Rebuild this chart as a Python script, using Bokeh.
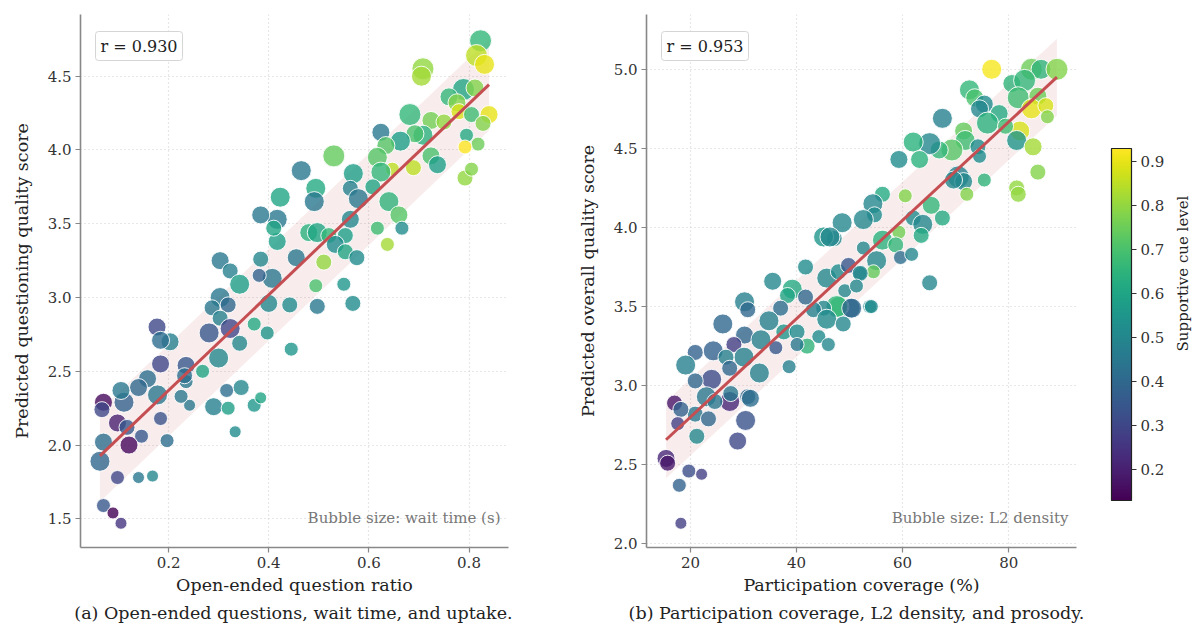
import numpy as np
from bokeh.plotting import figure
from bokeh.models import (ColumnDataSource, Range1d, LinearColorMapper, ColorBar,
                          FixedTicker, Label, NumeralTickFormatter)
from bokeh.transform import transform
from bokeh.palettes import Viridis256
from bokeh.layouts import row, column
from bokeh.embed import file_html
from bokeh.resources import INLINE

FONT = "DejaVu Serif"

# ---------------- Panel (a) data ----------------
open_ratio = [0.823, 0.815, 0.831, 0.708, 0.705, 0.789, 0.812, 0.760, 0.776, 0.840, 0.780, 0.805, 0.828, 0.795, 0.818, 0.792,
              0.682, 0.724, 0.750, 0.708, 0.692, 0.663, 0.624, 0.634, 0.724, 0.737, 0.689, 0.647, 0.617, 0.624, 0.792, 0.805,
              0.530, 0.465, 0.569, 0.563, 0.579, 0.494, 0.491, 0.608, 0.640, 0.660, 0.666, 0.617, 0.637, 0.423, 0.417, 0.563,
              0.480, 0.497, 0.520, 0.553, 0.455, 0.417, 0.533, 0.553, 0.576, 0.510, 0.494, 0.550, 0.407, 0.384, 0.410, 0.384,
              0.381, 0.303, 0.323, 0.342, 0.303, 0.319, 0.287, 0.303, 0.281, 0.323, 0.342, 0.300, 0.371, 0.397, 0.400, 0.442,
              0.497, 0.568, 0.445, 0.235, 0.177, 0.203, 0.184, 0.268, 0.235, 0.316, 0.345, 0.290, 0.319, 0.371, 0.384, 0.242,
              0.158, 0.184, 0.184, 0.232, 0.225, 0.140, 0.178, 0.111, 0.105, 0.070, 0.067, 0.098, 0.117, 0.146, 0.197, 0.121,
              0.070, 0.063, 0.098, 0.140, 0.168, 0.070, 0.089, 0.105, 0.333]
quality_a = [4.74, 4.64, 4.58, 4.55, 4.50, 4.41, 4.42, 4.36, 4.32, 4.24, 4.26, 4.24, 4.18, 4.10, 4.04, 4.02,
             4.24, 4.20, 4.19, 4.10, 4.11, 4.06, 4.12, 4.03, 3.96, 3.90, 3.88, 3.87, 3.95, 3.85, 3.81, 3.87,
             3.96, 3.86, 3.84, 3.74, 3.67, 3.74, 3.65, 3.75, 3.65, 3.56, 3.47, 3.47, 3.36, 3.68, 3.53, 3.53,
             3.44, 3.44, 3.42, 3.42, 3.27, 3.38, 3.36, 3.31, 3.27, 3.24, 3.08, 3.09, 3.13, 3.56, 3.47, 3.26,
             3.15, 3.25, 3.18, 3.09, 3.00, 2.95, 2.93, 2.86, 2.76, 2.79, 2.69, 2.59, 2.82, 2.76, 2.96, 2.95,
             2.94, 2.96, 2.65, 2.54, 2.80, 2.70, 2.55, 2.50, 2.43, 2.37, 2.39, 2.26, 2.25, 2.27, 2.32, 2.27,
             2.45, 2.18, 2.71, 2.47, 2.33, 2.39, 2.34, 2.29, 2.37, 2.29, 2.24, 2.15, 2.12, 2.06, 2.03, 2.00,
             2.02, 1.89, 1.78, 1.78, 1.79, 1.59, 1.54, 1.47, 2.09]
wait_time = [4.5, 4.5, 4.0, 4.5, 4.0, 4.5, 3.5, 3.5, 3.5, 3.5, 3.0, 3.0, 3.0, 2.5, 2.5, 2.5,
             4.5, 3.5, 3.0, 4.0, 3.5, 4.0, 3.5, 3.5, 3.5, 3.5, 3.0, 2.5, 4.0, 4.0, 3.0, 2.5,
             4.5, 4.0, 4.0, 3.0, 4.0, 4.0, 4.0, 3.0, 4.0, 3.5, 2.5, 2.5, 2.5, 4.0, 4.0, 3.5,
             3.5, 4.0, 3.0, 3.0, 3.5, 3.5, 3.5, 3.0, 3.0, 3.0, 2.5, 2.5, 4.0, 3.5, 3.0, 3.0,
             2.5, 3.5, 3.0, 4.0, 4.0, 3.0, 3.0, 3.0, 4.0, 4.0, 3.0, 4.0, 2.5, 2.5, 3.5, 3.0,
             3.0, 3.0, 2.5, 3.5, 3.5, 3.5, 3.5, 2.5, 2.5, 2.5, 3.0, 3.5, 2.5, 2.5, 2.0, 2.0,
             3.5, 2.5, 3.5, 3.0, 2.5, 3.5, 4.0, 4.0, 3.5, 3.5, 3.0, 3.5, 3.0, 2.5, 2.5, 3.5,
             3.5, 4.0, 2.5, 2.0, 2.0, 2.5, 2.0, 2.0, 2.0]
cue_a = [0.66, 0.85, 0.90, 0.80, 0.82, 0.60, 0.78, 0.66, 0.78, 0.90, 0.88, 0.68, 0.78, 0.62, 0.75, 0.93,
         0.66, 0.76, 0.80, 0.64, 0.70, 0.58, 0.45, 0.72, 0.70, 0.58, 0.85, 0.85, 0.72, 0.66, 0.80, 0.78,
         0.74, 0.45, 0.58, 0.48, 0.45, 0.62, 0.45, 0.60, 0.65, 0.72, 0.52, 0.68, 0.82, 0.60, 0.45, 0.50,
         0.64, 0.60, 0.66, 0.58, 0.45, 0.58, 0.52, 0.60, 0.52, 0.80, 0.70, 0.55, 0.45, 0.45, 0.60, 0.50,
         0.38, 0.45, 0.48, 0.58, 0.45, 0.40, 0.45, 0.48, 0.35, 0.30, 0.50, 0.50, 0.62, 0.55, 0.50, 0.52,
         0.45, 0.52, 0.55, 0.35, 0.30, 0.48, 0.30, 0.60, 0.45, 0.42, 0.50, 0.48, 0.58, 0.55, 0.60, 0.45,
         0.42, 0.33, 0.42, 0.42, 0.45, 0.40, 0.45, 0.38, 0.45, 0.15, 0.30, 0.20, 0.35, 0.35, 0.42, 0.15,
         0.42, 0.40, 0.30, 0.45, 0.50, 0.35, 0.13, 0.25, 0.52]
r_a_text = "r = 0.930"

# ---------------- Panel (b) data ----------------
coverage = [76.8, 84.3, 86.1, 89.1, 80.6, 83.0, 81.8, 85.5, 84.3, 87.0, 87.3, 82.1, 81.5, 84.6, 85.5, 81.5, 81.8,
            72.6, 73.6, 75.4, 74.5, 78.2, 76.0, 79.4, 67.5, 71.5, 71.8, 74.2, 74.5, 75.4, 69.3, 66.9, 65.1, 62.0,
            63.2, 59.3, 70.5, 71.5, 72.1, 69.6, 60.5, 65.4, 67.5, 56.2, 54.4, 54.7, 52.6, 48.6, 47.1, 62.0, 63.8,
            63.5, 59.3, 56.2, 58.7, 52.6, 59.6, 61.7, 55.1, 54.5, 51.95, 65.1, 53.8, 50.1, 48.0, 45.1, 46.3, 41.7,
            35.5, 39.2, 38.3, 45.7, 47.9, 49.8, 52.0, 49.1, 51.3, 47.6, 50.4, 54.1, 45.1, 43.2, 45.7, 48.8, 41.7,
            37.0, 30.2, 30.8, 34.8, 37.6, 40.1, 44.2, 42.0, 46.0, 40.1, 26.1, 30.2, 33.3, 28.2, 30.1, 36.1, 38.6,
            33.0, 24.3, 26.7, 27.4, 20.9, 19.1, 24.0, 20.9, 30.8, 27.4, 23.0, 24.6, 27.6, 31.3, 20.9, 23.4, 30.4,
            28.9, 21.2, 17.0, 18.2, 17.6, 15.4, 15.7, 19.7, 22.1, 17.9, 18.2]
quality_b = [5.00, 5.00, 5.00, 5.00, 4.91, 4.93, 4.82, 4.83, 4.75, 4.77, 4.70, 4.61, 4.55, 4.51, 4.35, 4.25, 4.21,
             4.87, 4.82, 4.78, 4.75, 4.72, 4.66, 4.64, 4.69, 4.61, 4.55, 4.51, 4.45, 4.30, 4.49, 4.49, 4.53, 4.54,
             4.43, 4.43, 4.32, 4.29, 4.21, 4.30, 4.20, 4.14, 4.06, 4.21, 4.15, 4.08, 4.05, 4.03, 3.93, 4.06, 4.02,
             3.95, 3.97, 3.92, 3.89, 3.87, 3.81, 3.83, 3.79, 3.72, 3.71, 3.65, 3.50, 3.49, 3.50, 3.94, 3.94, 3.75,
             3.66, 3.61, 3.57, 3.68, 3.72, 3.76, 3.71, 3.60, 3.63, 3.50, 3.49, 3.50, 3.49, 3.48, 3.42, 3.39, 3.56,
             3.49, 3.53, 3.48, 3.41, 3.34, 3.34, 3.31, 3.25, 3.26, 3.26, 3.39, 3.32, 3.29, 3.26, 3.18, 3.24, 3.12,
             3.08, 3.22, 3.18, 3.11, 3.21, 3.13, 3.04, 3.03, 2.93, 2.90, 2.93, 2.90, 2.95, 2.92, 2.82, 2.79, 2.78,
             2.65, 2.68, 2.89, 2.85, 2.76, 2.54, 2.51, 2.46, 2.44, 2.37, 2.13]
l2_density = [0.50, 0.55, 0.50, 0.55, 0.45, 0.55, 0.55, 0.45, 0.50, 0.40, 0.35, 0.50, 0.50, 0.45, 0.40, 0.40, 0.40,
              0.50, 0.45, 0.45, 0.45, 0.45, 0.55, 0.40, 0.50, 0.45, 0.50, 0.40, 0.35, 0.35, 0.55, 0.45, 0.55, 0.50,
              0.45, 0.45, 0.55, 0.45, 0.35, 0.45, 0.35, 0.45, 0.40, 0.40, 0.50, 0.40, 0.50, 0.50, 0.40, 0.40, 0.50,
              0.40, 0.35, 0.50, 0.40, 0.35, 0.35, 0.35, 0.50, 0.35, 0.35, 0.40, 0.35, 0.50, 0.50, 0.50, 0.50, 0.40,
              0.45, 0.50, 0.40, 0.50, 0.40, 0.40, 0.40, 0.35, 0.35, 0.55, 0.50, 0.35, 0.40, 0.40, 0.50, 0.40, 0.40,
              0.40, 0.50, 0.40, 0.50, 0.40, 0.40, 0.35, 0.40, 0.35, 0.35, 0.50, 0.45, 0.50, 0.40, 0.50, 0.35, 0.35,
              0.50, 0.50, 0.40, 0.40, 0.40, 0.50, 0.50, 0.40, 0.40, 0.50, 0.50, 0.40, 0.40, 0.45, 0.40, 0.40, 0.50,
              0.45, 0.40, 0.40, 0.40, 0.35, 0.45, 0.40, 0.35, 0.30, 0.35, 0.30]
cue_b = [0.92, 0.75, 0.65, 0.78, 0.65, 0.66, 0.68, 0.75, 0.90, 0.88, 0.78, 0.88, 0.55, 0.82, 0.78, 0.80, 0.80,
         0.66, 0.70, 0.52, 0.50, 0.62, 0.64, 0.68, 0.48, 0.74, 0.68, 0.52, 0.52, 0.65, 0.72, 0.66, 0.50, 0.64,
         0.64, 0.52, 0.48, 0.50, 0.78, 0.50, 0.78, 0.66, 0.62, 0.62, 0.50, 0.52, 0.50, 0.50, 0.50, 0.52, 0.50,
         0.62, 0.76, 0.64, 0.66, 0.50, 0.42, 0.50, 0.50, 0.74, 0.50, 0.50, 0.52, 0.40, 0.68, 0.55, 0.50, 0.52,
         0.50, 0.62, 0.60, 0.50, 0.52, 0.35, 0.50, 0.50, 0.50, 0.66, 0.40, 0.52, 0.50, 0.48, 0.52, 0.50, 0.40,
         0.42, 0.48, 0.40, 0.48, 0.55, 0.52, 0.52, 0.65, 0.50, 0.45, 0.40, 0.40, 0.48, 0.28, 0.48, 0.35, 0.48,
         0.48, 0.38, 0.48, 0.40, 0.38, 0.48, 0.32, 0.40, 0.40, 0.22, 0.45, 0.45, 0.45, 0.42, 0.45, 0.40, 0.33,
         0.30, 0.50, 0.18, 0.38, 0.28, 0.22, 0.18, 0.32, 0.28, 0.38, 0.28]
r_b_text = "r = 0.953"

captions = ["(a) Open-ended questions, wait time, and uptake.",
            "(b) Participation coverage, L2 density, and prosody."]
cbar_label = "Supportive cue level"
cbar_ticks = [0.2, 0.3, 0.4, 0.5, 0.6, 0.7, 0.8, 0.9]

mapper = LinearColorMapper(palette=Viridis256, low=min(cue_a + cue_b), high=max(cue_a + cue_b))

RED = "#C44E52"
ROW_H = 598


def style(p):
    for ax in (p.xaxis[0], p.yaxis[0]):
        ax.axis_line_color = "#888888"
        ax.axis_line_width = 1.6
        ax.major_tick_line_color = "#888888"
        ax.major_tick_line_width = 1.2
        ax.major_tick_in = 0
        ax.major_tick_out = 5
        ax.minor_tick_line_color = None
        ax.major_label_standoff = 4
        ax.major_label_text_font = FONT
        ax.major_label_text_font_size = "15px"
        ax.major_label_text_color = "#333333"
        ax.axis_label_text_font = FONT
        ax.axis_label_text_font_size = "17.5px"
        ax.axis_label_text_font_style = "normal"
        ax.axis_label_text_color = "#222222"
    p.xgrid.grid_line_color = "#cfcfcf"
    p.ygrid.grid_line_color = "#cfcfcf"
    p.xgrid.grid_line_dash = "1 3"
    p.ygrid.grid_line_dash = "1 3"
    p.xgrid.grid_line_width = 1.2
    p.ygrid.grid_line_width = 1.2
    p.outline_line_color = None
    p.background_fill_color = "white"


def panel(x, y, s, c, xlabel, ylabel, xticks, yticks, xfmt, rtext, bubble_text,
          width, bl, br, size_fn):
    x = np.asarray(x, float)
    y = np.asarray(y, float)
    slope, inter = np.polyfit(x, y, 1)
    resid_sd = np.std(y - (slope * x + inter))
    x0, x1 = x.min(), x.max()
    bx = np.array([x0, x1, x1, x0])
    fit = slope * bx + inter
    by = fit + np.array([-1, -1, 1, 1]) * resid_sd

    xs = x1 - x0
    ylo = min(y.min(), by.min())
    yhi = max(y.max(), by.max())
    ys = yhi - ylo
    p = figure(width=width, height=ROW_H, output_backend="svg", toolbar_location=None,
               x_range=Range1d(x0 - 0.05 * xs, x1 + 0.05 * xs),
               y_range=Range1d(ylo - 0.05 * ys, yhi + 0.05 * ys),
               min_border_left=bl, min_border_right=br, min_border_top=14, min_border_bottom=51)
    style(p)
    p.xaxis.ticker = FixedTicker(ticks=xticks)
    p.yaxis.ticker = FixedTicker(ticks=yticks)
    p.xaxis.formatter = NumeralTickFormatter(format=xfmt)
    p.yaxis.formatter = NumeralTickFormatter(format="0.0")
    p.xaxis.axis_label = xlabel
    p.yaxis.axis_label = ylabel
    p.xaxis.axis_label_standoff = 4
    p.yaxis.axis_label_standoff = 13

    p.patch(bx, by, fill_color=RED, fill_alpha=0.11, line_color=None)
    src = ColumnDataSource(dict(x=x, y=y, sz=[size_fn(v) for v in s], c=c))
    p.scatter("x", "y", source=src, size="sz", fill_color=transform("c", mapper),
              fill_alpha=0.8, line_color="white", line_width=1.0, line_alpha=0.9)
    lx = np.array([x0, x1])
    p.line(lx, slope * lx + inter, line_color=RED, line_width=3)

    fw = width - bl - br
    p.add_layout(Label(x=15, y=487, x_units="screen", y_units="screen", text=rtext,
                       text_font=FONT, text_font_size="16px", text_color="#222222",
                       border_line_color="#d5d5d5", border_line_width=1,
                       background_fill_color="white", background_fill_alpha=0.9,
                       padding=5, border_radius=3))
    p.add_layout(Label(x=fw - 8, y=30, x_units="screen", y_units="screen",
                       text=bubble_text, text_align="right", text_baseline="middle",
                       text_font=FONT, text_font_size="15px", text_color="#777777"))
    return p


fa = panel(open_ratio, quality_a, wait_time, cue_a,
           "Open-ended question ratio", "Predicted questioning quality score",
           [0.2, 0.4, 0.6, 0.8], [1.5, 2.0, 2.5, 3.0, 3.5, 4.0, 4.5], "0.0",
           r_a_text, "Bubble size: wait time (s)",
           560, 80, 52, lambda w: 4 * (w + 1))

fb = panel(coverage, quality_b, l2_density, cue_b,
           "Participation coverage (%)", "Predicted overall quality score",
           [20, 40, 60, 80], [2.0, 2.5, 3.0, 3.5, 4.0, 4.5, 5.0], "0",
           r_b_text, "Bubble size: L2 density",
           612, 86, 96, lambda d: 40 * d)

cb = ColorBar(color_mapper=mapper, ticker=FixedTicker(ticks=cbar_ticks),
              formatter=NumeralTickFormatter(format="0.0"),
              width=20, height=352, location=(35, 47), padding=0,
              major_tick_in=0, major_tick_out=5, major_tick_line_color="#333333",
              bar_line_color="#222222", bar_line_width=1.2,
              major_label_text_font=FONT, major_label_text_font_size="15px",
              major_label_text_color="#333333", label_standoff=4,
              background_fill_alpha=0, border_line_color=None)
fb.add_layout(cb, "right")


def blank(w, h):
    f = figure(width=w, height=h, output_backend="svg", toolbar_location=None,
               x_range=Range1d(0, w), y_range=Range1d(0, h),
               x_axis_type=None, y_axis_type=None, min_border=0)
    f.outline_line_color = None
    f.xgrid.visible = False
    f.ygrid.visible = False
    return f


fc = blank(20, ROW_H)
fc.add_layout(Label(x=10, y=ROW_H - 324, x_units="screen", y_units="screen", text=cbar_label,
                    angle=np.pi / 2, text_align="center", text_baseline="middle",
                    text_font=FONT, text_font_size="15px", text_color="#222222"))

fcap = blank(1192, 623 - ROW_H)
for txt, cx in zip(captions, [293, 856]):
    fcap.add_layout(Label(x=cx, y=11, x_units="screen", y_units="screen", text=txt,
                          text_align="center", text_baseline="middle",
                          text_font=FONT, text_font_size="17.5px", text_color="#222222"))

layout = column(row(fa, fb, fc), fcap)
open("out.html", "w").write(file_html(layout, INLINE))
